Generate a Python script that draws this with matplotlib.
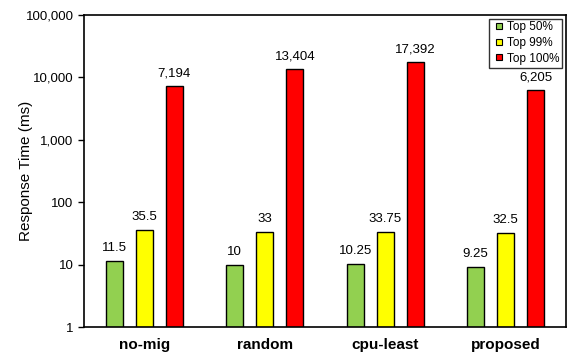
import numpy as np
import matplotlib
matplotlib.use("Agg")
import matplotlib.pyplot as plt
from matplotlib.lines import Line2D
from matplotlib.ticker import FixedLocator, FuncFormatter

plt.rcParams['font.family'] = ['Liberation Sans', 'DejaVu Sans']

# response times per migration strategy
strategies = ['no-mig', 'random', 'cpu-least', 'proposed']
top50 = [11.5, 10, 10.25, 9.25]
top99 = [35.5, 33, 33.75, 32.5]
top100 = [7194, 13404, 17392, 6205]
series_names = ['Top 50%', 'Top 99%', 'Top 100%']
colors = ['#92D050', '#FFFF00', '#FF0000']


def fmt(v):
    if v >= 1000:
        return f'{v:,.0f}'
    return f'{v:g}'


fig = plt.figure(figsize=(5.69, 3.53), dpi=100)
ax = fig.add_axes([84 / 569, 26 / 353, 482 / 569, 312 / 353])

x = np.arange(len(strategies))
width = 0.14
offsets = [-0.25, 0, 0.25]
for vals, off, col, name in zip([top50, top99, top100], offsets, colors, series_names):
    bars = ax.bar(x + off, vals, width, color=col, edgecolor='black',
                  linewidth=1.0, label=name, zorder=2)
    for b, v in zip(bars, vals):
        ax.annotate(fmt(v), (b.get_x() + b.get_width() / 2, v),
                    xytext=(0, 5), textcoords='offset points',
                    ha='center', va='bottom', fontsize=9.5)

ax.set_yscale('log')
ax.set_ylim(1, 100000)
ax.set_xlim(-0.5, 3.5)
ax.yaxis.set_major_locator(FixedLocator([1, 10, 100, 1000, 10000, 100000]))
ax.yaxis.set_minor_locator(FixedLocator([]))
ax.yaxis.set_major_formatter(FuncFormatter(lambda v, p: f'{v:,.0f}'))
ax.tick_params(axis='y', labelsize=9.5, length=4, width=1, direction='out')
ax.tick_params(axis='x', length=0, pad=8)
ax.set_xticks(x)
ax.set_xticklabels(strategies, fontsize=11, fontweight='bold')
ax.set_ylabel('Response Time (ms)', fontsize=11)
ax.yaxis.set_label_coords(-51 / 482, 0.5)
for s in ax.spines.values():
    s.set_linewidth(1.2)

# small square markers in the legend
handles = [Line2D([], [], marker='s', linestyle='none', markersize=4.5,
                  markerfacecolor=c, markeredgecolor='black', markeredgewidth=0.8)
           for c in colors]
leg = ax.legend(handles, series_names, loc='upper right', fontsize=8.5,
                frameon=True, fancybox=False, edgecolor='black',
                handlelength=1.2, handletextpad=0.05, borderpad=0.25,
                labelspacing=0.3, borderaxespad=0.3)
leg.get_frame().set_linewidth(1.0)

fig.savefig('out.png', dpi=100)
